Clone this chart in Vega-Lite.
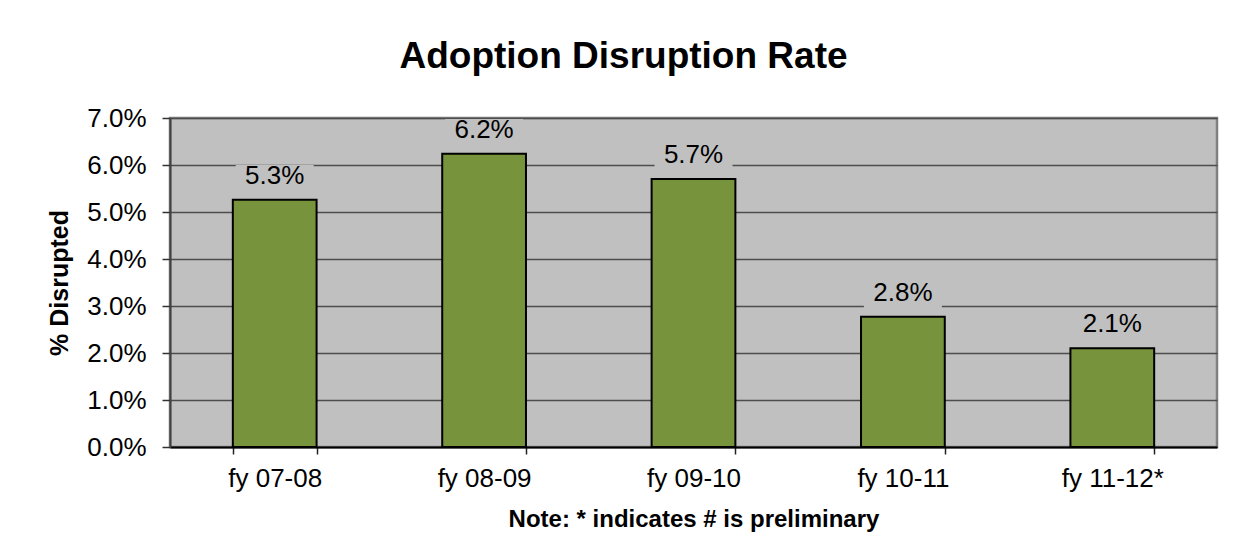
{
  "$schema": "https://vega.github.io/schema/vega-lite/v6.json",
  "width": 1047,
  "height": 329,
  "autosize": {"type": "none"},
  "padding": {"left": 170, "top": 118, "right": 21, "bottom": 99},
  "background": "white",
  "title": {
    "text": "Adoption Disruption Rate",
    "font": "Liberation Sans",
    "fontSize": 37,
    "fontWeight": "bold",
    "color": "black",
    "anchor": "middle",
    "frame": "group",
    "dx": -70,
    "baseline": "alphabetic",
    "offset": 0
  },
  "data": {
    "values": [
      {"year": "fy 07-08", "rate": 0.0526},
      {"year": "fy 08-09", "rate": 0.0624},
      {"year": "fy 09-10", "rate": 0.057},
      {"year": "fy 10-11", "rate": 0.0277},
      {"year": "fy 11-12*", "rate": 0.021}
    ]
  },
  "encoding": {
    "x": {
      "field": "year",
      "type": "nominal",
      "sort": null,
      "scale": {"paddingInner": 0.6, "paddingOuter": 0.3},
      "axis": {
        "title": "Note: * indicates # is preliminary",
        "titleFont": "Liberation Sans",
        "titleFontSize": 24,
        "titleFontWeight": "bold",
        "titleColor": "black",
        "titlePadding": 16,
        "labelFont": "Liberation Sans",
        "labelFontSize": 26,
        "labelColor": "black",
        "labelAngle": 0,
        "labelPadding": 11,
        "tickBand": "extent",
        "tickSize": 7,
        "tickColor": "#222222",
        "tickWidth": 1.5,
        "domainColor": "black",
        "domainWidth": 2,
        "grid": false
      }
    },
    "y": {
      "field": "rate",
      "type": "quantitative",
      "scale": {"domain": [0, 0.07], "nice": false},
      "axis": {
        "title": "% Disrupted",
        "titleFont": "Liberation Sans",
        "titleFontSize": 25,
        "titleFontWeight": "bold",
        "titleColor": "black",
        "titlePadding": 14,
        "format": ".1%",
        "values": [0, 0.01, 0.02, 0.03, 0.04, 0.05, 0.06, 0.07],
        "labelFont": "Liberation Sans",
        "labelFontSize": 26,
        "labelColor": "black",
        "labelPadding": 16,
        "tickSize": 8,
        "tickColor": "#333333",
        "tickWidth": 1.5,
        "domainColor": "#404040",
        "domainWidth": 2,
        "grid": true,
        "gridColor": "#4d4d4d",
        "gridWidth": 1.3
      }
    }
  },
  "layer": [
    {
      "mark": {"type": "bar", "fill": "#77933C", "stroke": "black", "strokeWidth": 2}
    },
    {
      "mark": {
        "type": "point",
        "shape": "M-1,-0.354H1V0.354H-1Z",
        "size": 6084,
        "filled": true,
        "fill": "#C0C0C0",
        "opacity": 1,
        "strokeWidth": 0,
        "yOffset": -21
      }
    },
    {
      "mark": {
        "type": "text",
        "font": "Liberation Sans",
        "fontSize": 26,
        "color": "black",
        "baseline": "alphabetic",
        "dy": -16
      },
      "encoding": {
        "text": {"field": "rate", "type": "quantitative", "format": ".1%"}
      }
    }
  ],
  "config": {
    "view": {"fill": "#C0C0C0", "stroke": "#808080", "strokeWidth": 2.5}
  }
}
